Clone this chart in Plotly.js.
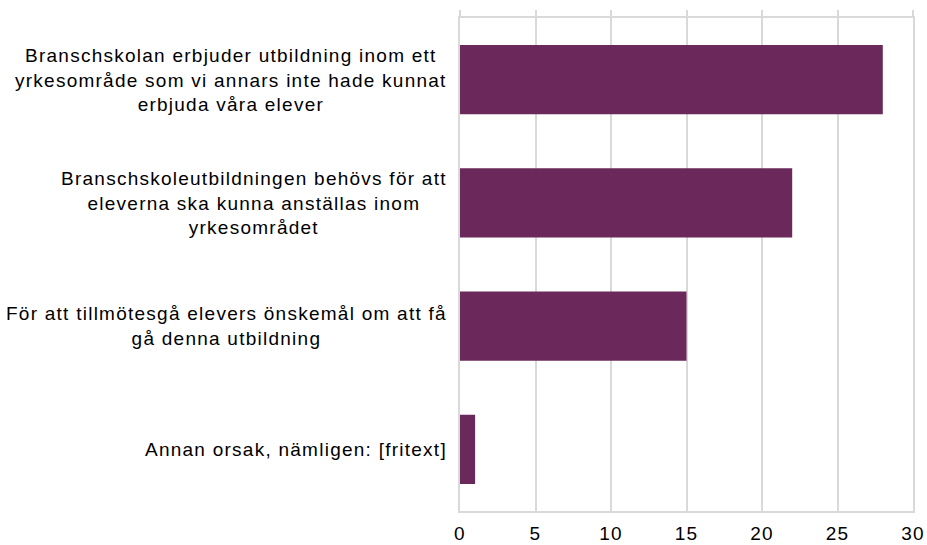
<!DOCTYPE html>
<html>
<head>
<meta charset="utf-8">
<script src="https://cdn.plot.ly/plotly-3.0.1.min.js"></script>
<style>
html,body{margin:0;padding:0;background:#fff;}
#chart{width:927px;height:545px;}
svg text{letter-spacing:1.25px;}
</style>
</head>
<body>
<div id="chart"></div>
<script>
const categories = [
  "Branschskolan erbjuder utbildning inom ett<br>yrkesområde som vi annars inte hade kunnat<br>erbjuda våra elever",
  "Branschskoleutbildningen behövs för att<br>eleverna ska kunna anställas inom<br>yrkesområdet",
  "För att tillmötesgå elevers önskemål om att få<br>gå denna utbildning",
  "Annan orsak, nämligen: [fritext]"
];
const values = [28, 22, 15, 1];
const tickVals = [0, 5, 10, 15, 20, 25, 30];

const gridColor = "#d9d9d9";
const font = {family: "Liberation Sans, Arial, sans-serif", size: 19, color: "#000"};

const trace = {
  type: "bar",
  orientation: "h",
  x: values,
  y: categories,
  marker: {color: "#6a295a"},
  width: 0.56,
  hoverinfo: "none"
};
const ghost = {
  type: "scatter", mode: "none", x: [0, 30], y: [categories[0], categories[0]],
  xaxis: "x2", yaxis: "y", hoverinfo: "none", showlegend: false
};

const annotations = categories.map(c => ({
  xref: "paper", yref: "y", x: 0, y: c, xanchor: "right", yanchor: "middle",
  xshift: -11, align: "center", showarrow: false, text: c, font: font
}));

const layout = {
  width: 927, height: 545,
  margin: {l: 460, r: 14, t: 18, b: 34, pad: 0},
  paper_bgcolor: "#fff", plot_bgcolor: "#fff",
  showlegend: false,
  font: font,
  xaxis: {
    range: [0, 30], tickvals: tickVals, ticktext: tickVals.map(String),
    showgrid: true, gridcolor: gridColor, gridwidth: 2,
    zeroline: false, showline: true, linecolor: gridColor, linewidth: 2,
    ticks: "", ticklabelstandoff: 4, tickfont: font, fixedrange: true
  },
  xaxis2: {
    overlaying: "x", side: "top", range: [0, 30], tickvals: tickVals,
    showticklabels: false, showgrid: false, zeroline: false,
    showline: true, linecolor: gridColor, linewidth: 2,
    ticks: "outside", ticklen: 6, tickwidth: 2, tickcolor: gridColor
  },
  yaxis: {
    type: "category", categoryorder: "array", categoryarray: categories.slice().reverse(),
    showticklabels: false, ticks: "", showgrid: false, zeroline: false,
    showline: true, mirror: true, linecolor: gridColor, linewidth: 2
  },
  bargap: 0.44,
  annotations: annotations
};

Plotly.newPlot("chart", [trace, ghost], layout, {displayModeBar: false, staticPlot: true});
</script>
</body>
</html>
